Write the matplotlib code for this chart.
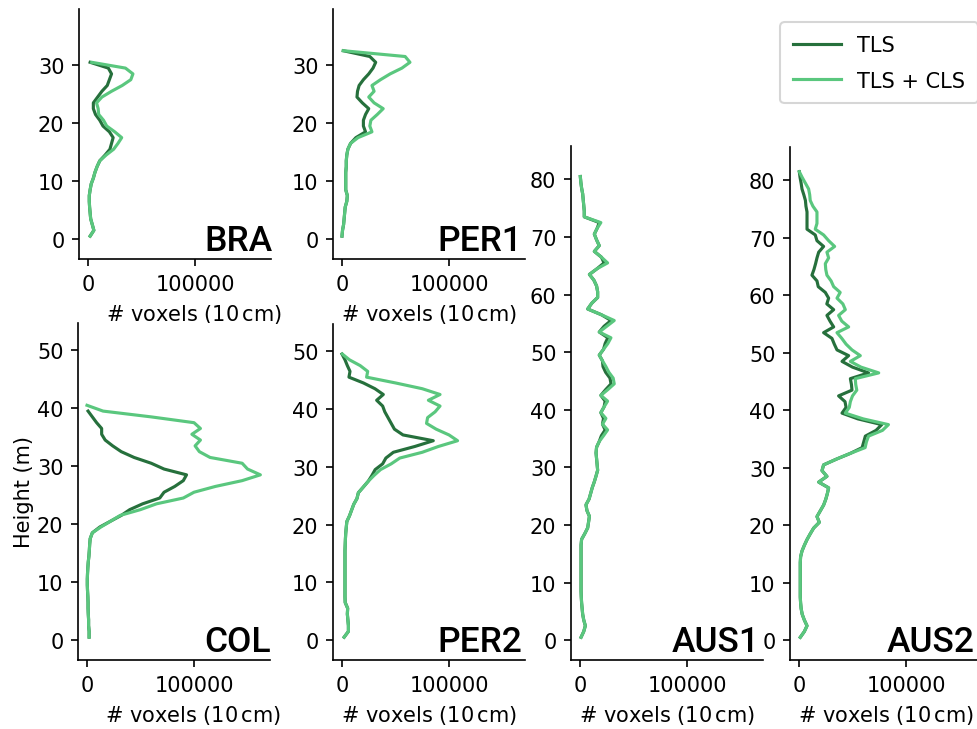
import numpy as np
import matplotlib
matplotlib.use('Agg')
import matplotlib.pyplot as plt
from matplotlib.ticker import MultipleLocator

# vertical profiles: voxel counts per 1 m height bin
bra_tls = [2000, 5500, 4000, 2500, 2000, 1500, 1200, 1200, 2000, 3000, 5000, 6500, 8500, 11000,
           16000, 20500, 22000, 23500, 20000, 14000, 11000, 7000, 5000, 5000, 9000, 13000, 18000,
           20000, 22000, 19000, 2000]
bra_all = [2000, 5500, 4000, 2500, 2000, 1500, 1200, 1200, 2000, 3000, 5000, 6500, 8500, 11000,
           17000, 24000, 28000, 31500, 25000, 17500, 14500, 10000, 9500, 8000, 13000, 22000, 32000,
           40000, 42000, 35000, 3500]

per1_tls = [0, 500, 1500, 2000, 2500, 3000, 4500, 5000, 3500, 3500, 3500, 3500, 4000, 4000, 4500,
            5500, 8000, 13000, 22000, 20000, 20000, 22000, 25000, 19000, 14000, 14500, 16000, 20000,
            25000, 29000, 31500, 26000, 1200]
per1_all = [0, 500, 1500, 2000, 2500, 3000, 4500, 5000, 3500, 3500, 3500, 3500, 4000, 4000, 4500,
            5500, 8000, 15000, 28000, 26000, 27000, 33000, 38500, 30000, 25000, 30000, 28000, 36000,
            45000, 56000, 63500, 59000, 1200]

col_tls = [2000, 2000, 1500, 1500, 1200, 1000, 1000, 800, 500, 300, 300, 500, 800, 1200, 1800, 2200,
           2500, 3000, 5000, 12000, 22000, 32000, 40000, 52000, 68000, 72000, 82000, 90000, 93000,
           72000, 60000, 44000, 32000, 24000, 17000, 13700, 13700, 9000, 5000, 1000]
col_all = [2000, 2000, 1500, 1500, 1200, 1000, 1000, 800, 500, 300, 300, 500, 800, 1200, 1800, 2200,
           2500, 3000, 5000, 13000, 22000, 31000, 50000, 65000, 90000, 100000, 120000, 145000, 162000,
           150000, 145000, 115000, 105000, 101000, 106000, 98000, 106000, 100000, 60000, 15000, 0]

per2_tls = [2000, 6000, 6000, 5500, 5000, 5300, 3000, 2800, 2800, 2800, 2800, 2800, 2800, 2800, 2800,
            2800, 3000, 3200, 3500, 4000, 4500, 7000, 9000, 11000, 14000, 15300, 20000, 24600, 28000,
            31000, 38000, 41000, 48000, 68000, 85300, 57000, 49000, 46000, 43000, 40000, 38000, 32400,
            38600, 30800, 20000, 6500, 7500, 5000, 2800, 0]
per2_all = [2000, 6000, 6000, 5500, 5000, 5300, 3000, 2800, 2800, 2800, 2800, 2800, 2800, 2800, 2800,
            2800, 3000, 3200, 3500, 4000, 4500, 7000, 9000, 11000, 14000, 15300, 20000, 24600, 30000,
            36000, 46000, 54000, 75000, 90000, 108000, 100000, 88000, 79000, 80000, 87000, 91600,
            80700, 91600, 75000, 50000, 23000, 24000, 17000, 7000, 300]

aus1_tls = [1000, 3500, 5000, 3500, 2500, 2000, 1500, 1200, 1000, 1000, 1000, 1000, 1000, 1000, 1000,
            1000, 1000, 1500, 4500, 7200, 8000, 8800, 6500, 5600, 8500, 10000, 11500, 13400, 15000,
            16500, 16000, 15500, 15000, 15500, 18000, 20000, 23500, 21000, 22000, 19500, 22500, 23500,
            19500, 24000, 29000, 28000, 24000, 21500, 21000, 18000, 22000, 23500, 26000, 18000, 22500,
            29000, 20000, 7200, 11000, 16500, 16500, 15500, 13000, 8800, 16000, 22500, 20000, 13400,
            18000, 15500, 13400, 16000, 18000, 4000, 4000, 3500, 3000, 2500, 1500, 800, 300]
aus1_all = [1000, 3500, 5000, 3500, 2500, 2000, 1500, 1200, 1000, 1000, 1000, 1000, 1000, 1000, 1000,
            1000, 1000, 1500, 4500, 7200, 8000, 8800, 6500, 5600, 8500, 10000, 11500, 13400, 15000,
            16500, 16000, 15500, 15000, 15500, 18000, 22000, 25800, 21000, 24200, 19500, 22500, 25800,
            19500, 26000, 32000, 31000, 27000, 24200, 21000, 18000, 22000, 26000, 28900, 18000, 25000,
            32000, 20000, 7200, 11000, 16500, 16500, 15500, 13000, 8800, 16000, 25800, 20000, 13400,
            18000, 15500, 13400, 16000, 19500, 4000, 4000, 3500, 3000, 2500, 1500, 800, 300]

aus2_tls = [1200, 5000, 7500, 5000, 3000, 2000, 1500, 1200, 1200, 1200, 1200, 1200, 1200, 1200, 1500,
            2800, 5000, 7500, 10500, 13700, 19000, 16800, 19900, 23000, 25000, 26500, 27700, 18400,
            26100, 21500, 23000, 35000, 48000, 59000, 60500, 62000, 72000, 77300, 55000, 40200, 44000,
            43000, 37000, 49500, 49000, 48000, 65000, 50000, 40200, 46400, 35500, 33000, 30800, 23000,
            32400, 29000, 26100, 32400, 26000, 27700, 24600, 18000, 16800, 12100, 14000, 15500, 16800,
            18400, 23000, 16800, 15200, 7500, 7500, 7500, 7500, 6500, 6000, 4500, 2800, 2000, 1000, 300]
aus2_all = [1200, 5000, 7500, 5000, 3000, 2000, 1500, 1200, 1200, 1200, 1200, 1200, 1200, 1200, 1500,
            2800, 5000, 7500, 10500, 13700, 19000, 16800, 19900, 23000, 25000, 26500, 27700, 18400,
            26100, 21500, 23000, 35000, 48000, 61800, 63000, 65000, 78000, 83600, 60000, 43300, 47000,
            48000, 50000, 54000, 53000, 52600, 74500, 58000, 48000, 57300, 49500, 44000, 40000, 35500,
            46400, 40000, 37000, 43300, 41000, 35500, 38500, 32400, 30000, 26100, 25000, 24600, 27700,
            26100, 33300, 27700, 23000, 15200, 16800, 16800, 16800, 13000, 10500, 10000, 9000, 6000,
            3000, 300]

sites = ['BRA', 'PER1', 'COL', 'PER2', 'AUS1', 'AUS2']
profiles = {'BRA': (bra_tls, bra_all), 'PER1': (per1_tls, per1_all), 'COL': (col_tls, col_all),
            'PER2': (per2_tls, per2_all), 'AUS1': (aus1_tls, aus1_all), 'AUS2': (aus2_tls, aus2_all)}

# axes boxes in pixels (left, top, right, bottom) and y upper limit
W, H = 978, 730
boxes = {'BRA': (79, 10, 271, 260, 39.7), 'PER1': (333, 10, 525, 260, 39.7),
         'COL': (78, 324, 270, 661, 54.7), 'PER2': (333, 325, 525, 661, 54.7),
         'AUS1': (571, 147, 763, 661, 85.8), 'AUS2': (790, 148, 982, 661, 85.8)}
# horizontal nudge (points) of the site name from the right edge of its axes
name_dx = {'BRA': 0.5, 'COL': 0.5, 'PER1': -1.5, 'PER2': -1.5, 'AUS1': -1.5, 'AUS2': -3.5}

c_tls = '#26703c'
c_all = '#5ac77e'

fig = plt.figure(figsize=(W / 150, H / 150), dpi=150)

for site in sites:
    l, t, r, b, ytop = boxes[site]
    ax = fig.add_axes([l / W, 1 - b / H, (r - l) / W, (b - t) / H])
    tls, both = profiles[site]
    ax.plot(tls, np.arange(len(tls)) + 0.5, color=c_tls, lw=1.5, label='TLS')
    ax.plot(both, np.arange(len(both)) + 0.5, color=c_all, lw=1.5, label='TLS + CLS')
    ax.set_xlim(-8400, 171000)
    ax.set_ylim(-3.45, ytop)
    ax.set_xticks([0, 100000])
    ax.set_xticklabels(['0', '100000'])
    ax.yaxis.set_major_locator(MultipleLocator(10))
    ax.spines['top'].set_visible(False)
    ax.spines['right'].set_visible(False)
    ax.set_xlabel('# voxels (10$\\,$cm)')
    if site in ('BRA', 'COL'):
        ax.xaxis.label.set_x(0.6)  # left column labels sit a bit to the right
    ax.annotate(site, xy=(1, 0), xycoords='axes fraction', xytext=(name_dx[site], 4.3),
                textcoords='offset points', ha='right', va='baseline',
                fontsize=17, family='Roboto', fontweight='medium')
    if site == 'COL':
        ax.set_ylabel('Height (m)', labelpad=1.5)
        handles, labels = ax.get_legend_handles_labels()

fig.legend(handles, labels, loc='upper left', bbox_to_anchor=(770 / W, 1 - 13 / H),
           borderpad=0.6, labelspacing=0.75, handlelength=2.3, handletextpad=0.8)
fig.savefig('out.png', dpi=150)
